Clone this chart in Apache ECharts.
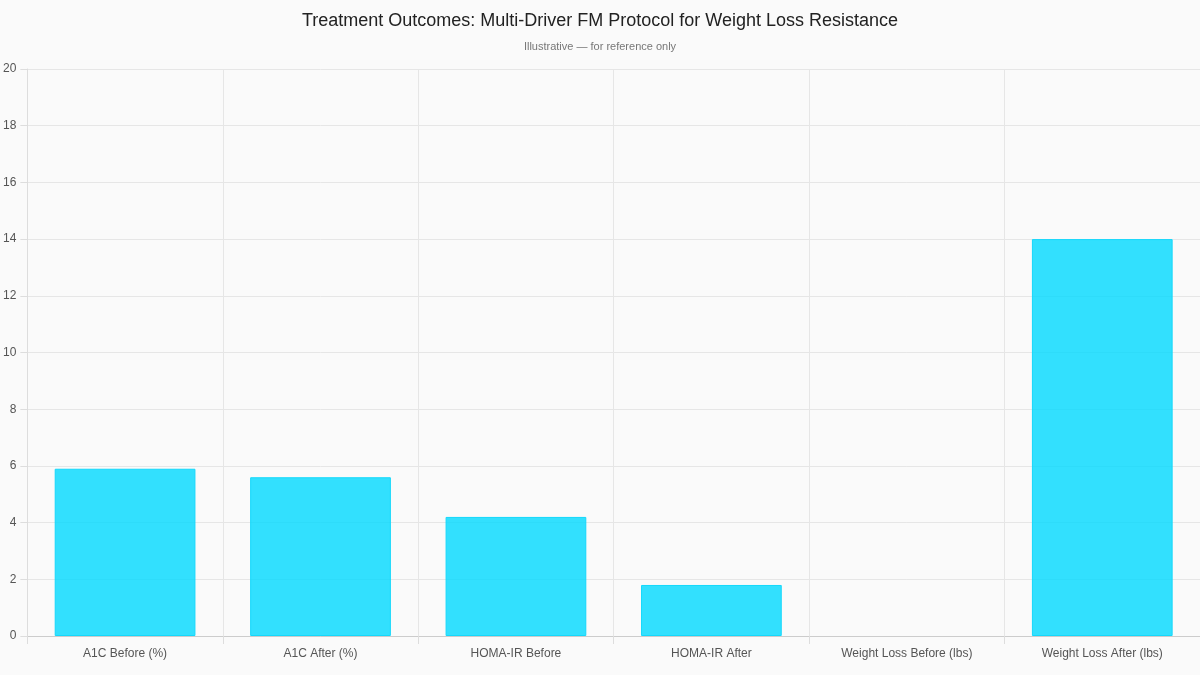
<!DOCTYPE html>
<html><head><meta charset="utf-8">
<script src="https://cdn.jsdelivr.net/npm/echarts@6/dist/echarts.min.js"></script>
<style>html,body{margin:0;padding:0;background:#fafafa}#c{width:1200px;height:675px}</style>
</head><body><div id="c"></div>
<script>
const categories = ["A1C Before (%)", "A1C After (%)", "HOMA-IR Before", "HOMA-IR After", "Weight Loss Before (lbs)", "Weight Loss After (lbs)"];
const values = [5.9, 5.6, 4.2, 1.8, 0, 14];
const titleText = "Treatment Outcomes: Multi-Driver FM Protocol for Weight Loss Resistance";
const subtitleText = "Illustrative — for reference only";

const chart = echarts.init(document.getElementById('c'));
chart.setOption({
  backgroundColor: '#fafafa',
  animation: false,
  textStyle: { fontFamily: 'Liberation Sans, Arial, sans-serif' },
  title: {
    text: titleText, subtext: subtitleText, left: 'center', top: 7, itemGap: 11,
    textStyle: { fontSize: 18, fontWeight: 'normal', color: '#222' },
    subtextStyle: { fontSize: 11, color: '#777' }
  },
  grid: { left: 27, right: 0, top: 69, bottom: 39, containLabel: false },
  xAxis: {
    type: 'category', data: categories,
    axisLine: { lineStyle: { color: '#ccc' } },
    axisTick: { show: true, alignWithLabel: false, length: 8, lineStyle: { color: '#ddd' } },
    axisLabel: { color: '#555', fontSize: 12, margin: 12, interval: 0 },
    splitLine: { show: true, lineStyle: { color: '#e6e6e6' } }
  },
  yAxis: {
    type: 'value', min: 0, max: 20, interval: 2,
    axisLine: { show: true, lineStyle: { color: '#ddd' } },
    axisTick: { show: true, length: 7, lineStyle: { color: '#ddd' } },
    axisLabel: { color: '#555', fontSize: 12, margin: 11 },
    splitLine: { lineStyle: { color: '#e6e6e6' } }
  },
  series: [{
    type: 'bar',
    data: values.map(v => v === 0 ? { value: v, itemStyle: { borderWidth: 0 } } : v),
    barCategoryGap: '28%',
    itemStyle: { color: 'rgba(0,217,255,0.8)', borderColor: '#14d8fb', borderWidth: 1 }
  }]
});
</script></body></html>
